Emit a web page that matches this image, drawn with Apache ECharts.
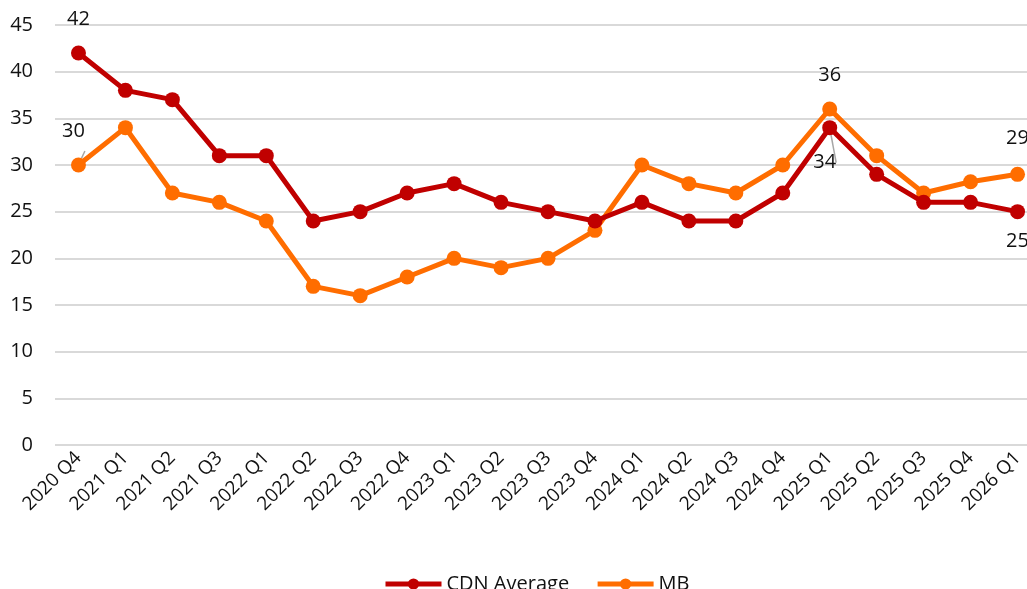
<!DOCTYPE html>
<html>
<head>
<meta charset="utf-8">
<script src="https://cdn.jsdelivr.net/npm/echarts@6/dist/echarts.min.js"></script>
<style>
  html, body { margin: 0; padding: 0; background: #fff; }
  #chart { width: 1027px; height: 589px; }
</style>
</head>
<body>
<div id="chart"></div>
<script>
const categories = ['2020 Q4', '2021 Q1', '2021 Q2', '2021 Q3', '2022 Q1', '2022 Q2', '2022 Q3',
  '2022 Q4', '2023 Q1', '2023 Q2', '2023 Q3', '2023 Q4', '2024 Q1', '2024 Q2', '2024 Q3',
  '2024 Q4', '2025 Q1', '2025 Q2', '2025 Q3', '2025 Q4', '2026 Q1'];
const cdnAverage = [42, 38, 37, 31, 31, 24, 25, 27, 28, 26, 25, 24, 26, 24, 24, 27, 34, 29, 26, 26, 25];
const mb = [30, 34, 27, 26, 24, 17, 16, 18, 20, 19, 20, 23, 30, 28, 27, 30, 36, 31, 27, 28.2, 29];

// points that carry a value label: index -> [dx, dy, leader line]
const cdnLabels = { 0: [0, -34, false], 16: [-5, 35, true], 20: [0, 30, false] };
const mbLabels = { 0: [-5, -34, true], 16: [0, -34, false], 20: [0, -36, false] };

const font = '"Open Sans", "Noto Sans", sans-serif';

function buildData(values, labels) {
  return values.map((v, i) => {
    if (!(i in labels)) return v;
    const off = labels[i];
    return {
      value: v,
      label: {
        show: true,
        position: 'inside',
        offset: [off[0], off[1]],
        formatter: String(Math.round(v)),
        color: '#111',
        fontSize: 20,
        fontFamily: font
      },
      labelLine: { show: off[2], lineStyle: { color: '#a6a6a6', width: 1.5 } }
    };
  });
}

const chart = echarts.init(document.getElementById('chart'));
chart.setOption({
  animation: false,
  backgroundColor: '#fff',
  grid: { left: 55, width: 986, top: 25, bottom: 144, containLabel: false, outerBoundsMode: 'none' },
  legend: {
    bottom: -10,
    left: 378,
    itemWidth: 56,
    itemHeight: 14,
    itemGap: 26,
    lineStyle: { width: 5 },
    textStyle: { fontSize: 20, color: '#111', fontFamily: font },
    data: ['CDN Average', 'MB']
  },
  xAxis: {
    type: 'category',
    data: categories,
    boundaryGap: true,
    axisLine: { show: false },
    axisTick: { show: false },
    axisLabel: { rotate: 45, interval: 0, fontSize: 19, color: '#111', fontFamily: font, margin: 10 }
  },
  yAxis: {
    type: 'value',
    min: 0,
    max: 45,
    interval: 5,
    axisLine: { show: false },
    axisTick: { show: false },
    axisLabel: { fontSize: 20, color: '#111', fontFamily: font, margin: 22 },
    splitLine: { lineStyle: { color: '#d9d9d9', width: 2 } }
  },
  series: [
    {
      name: 'CDN Average',
      type: 'line',
      data: buildData(cdnAverage, cdnLabels),
      symbol: 'circle',
      symbolSize: 15,
      lineStyle: { width: 5, color: '#c00000' },
      itemStyle: { color: '#c00000' },
      z: 3
    },
    {
      name: 'MB',
      type: 'line',
      data: buildData(mb, mbLabels),
      symbol: 'circle',
      symbolSize: 15,
      lineStyle: { width: 5, color: '#ff6d00' },
      itemStyle: { color: '#ff6d00' },
      z: 2
    }
  ]
});
</script>
</body>
</html>
